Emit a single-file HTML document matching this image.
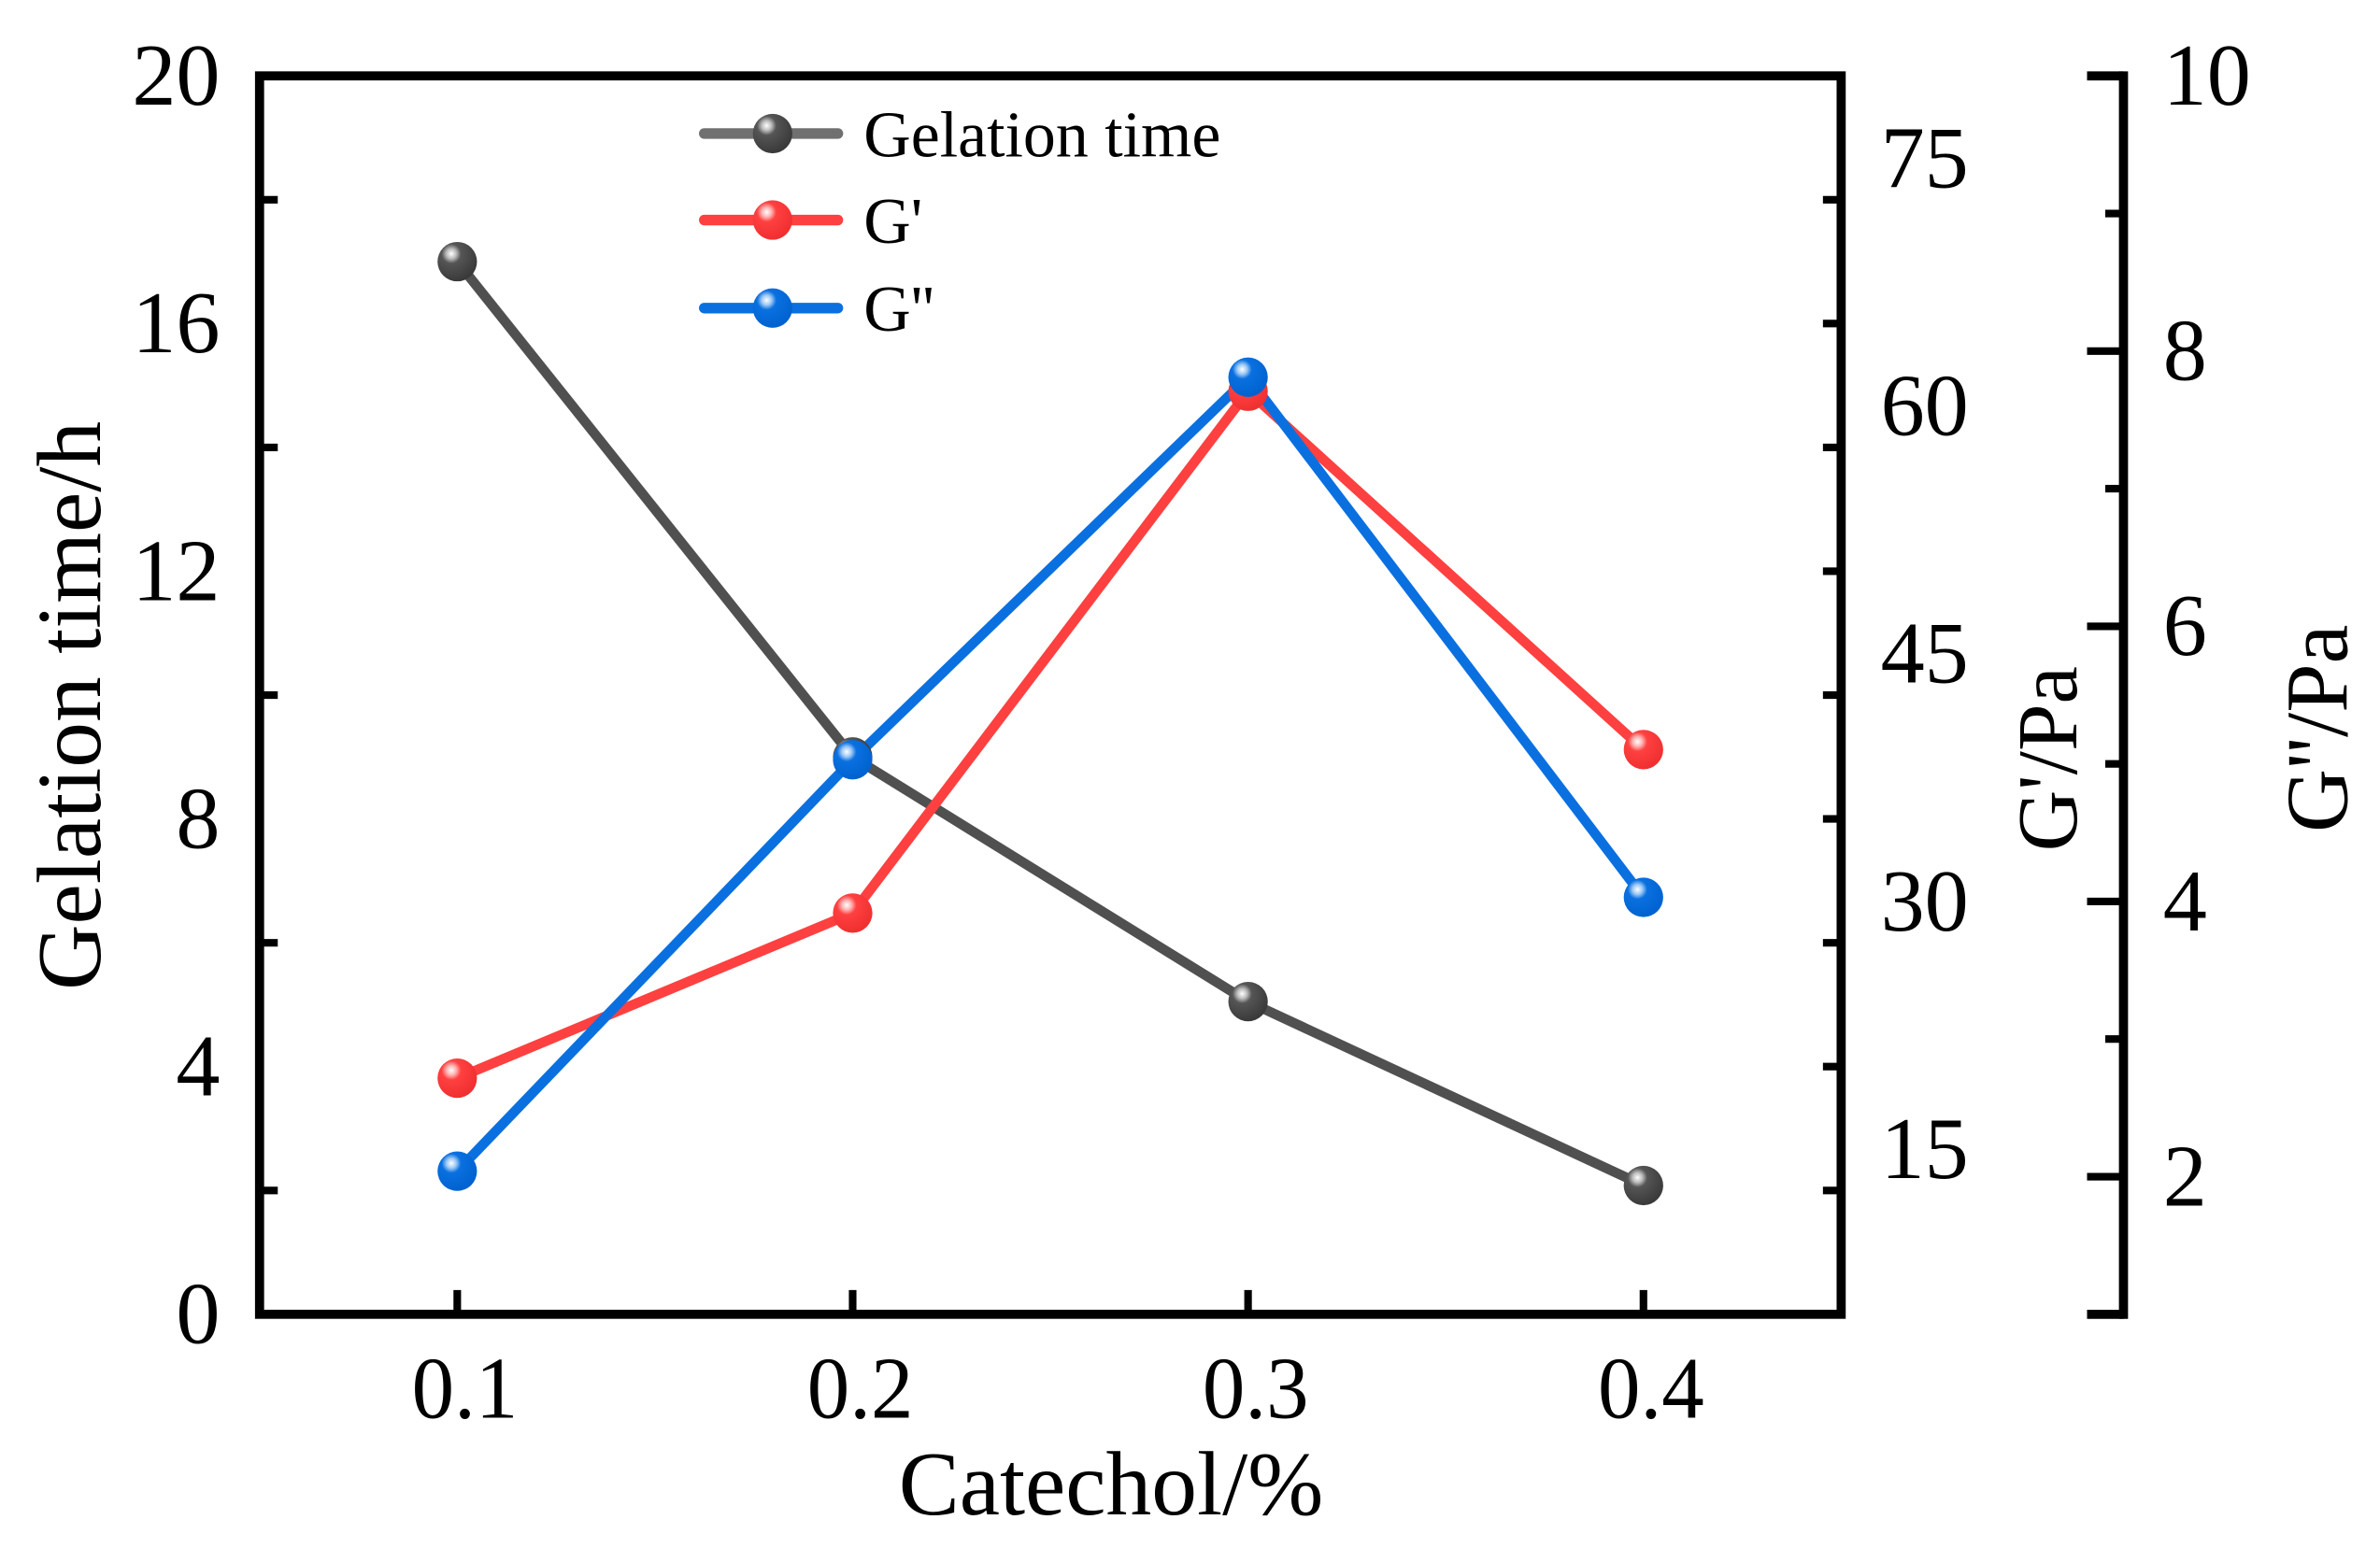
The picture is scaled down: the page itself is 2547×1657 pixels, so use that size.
<!DOCTYPE html>
<html><head><meta charset="utf-8">
<style>html,body{margin:0;padding:0;background:#fff}svg{display:block}</style></head>
<body>
<svg id="chart" width="2547" height="1657" viewBox="0 0 1568 1020" preserveAspectRatio="none" xmlns="http://www.w3.org/2000/svg" font-family="'Liberation Serif', serif">
<defs>
<radialGradient id="gGray" cx="0.35" cy="0.3" r="0.7"><stop offset="0" stop-color="#fff"/><stop offset="0.18" stop-color="#bbb"/><stop offset="0.35" stop-color="#555"/><stop offset="1" stop-color="#3a3a3a"/></radialGradient>
<radialGradient id="gRed" cx="0.35" cy="0.3" r="0.7"><stop offset="0" stop-color="#fff"/><stop offset="0.18" stop-color="#ffb0b0"/><stop offset="0.35" stop-color="#ff4040"/><stop offset="1" stop-color="#f03030"/></radialGradient>
<radialGradient id="gBlue" cx="0.35" cy="0.3" r="0.7"><stop offset="0" stop-color="#fff"/><stop offset="0.18" stop-color="#9cc8f5"/><stop offset="0.35" stop-color="#0a70e0"/><stop offset="1" stop-color="#0062d0"/></radialGradient>
</defs>
<g id="axes"></g>
<g id="series"></g>
<g id="legend"></g>
</svg>
<script>
const categories = [0.1, 0.2, 0.3, 0.4];
const gelationTime = [17.0, 9.0, 5.05, 2.08];
const gPrime = [19.3, 29.3, 60.9, 39.2];
const gDoublePrime = [2.04, 5.03, 7.81, 4.03];
const leftTicks = [0, 4, 8, 12, 16, 20];
const xTicks = ["0.1", "0.2", "0.3", "0.4"];
const gPrimeTicks = [15, 30, 45, 60, 75];
const gDoubleTicks = [2, 4, 6, 8, 10];

const NS = "http://www.w3.org/2000/svg";
const L = 171, R = 1213, T = 50, B = 866, R2 = 1399;
const xS = v => L + (v - 0.05) / 0.4 * (R - L);
const yL = v => B - v / 20 * (B - T);
const yG1 = v => B - (v - 5) / 75 * (B - T);
const yG2 = v => B - (v - 1) / 9 * (B - T);

function mk(parent, tag, attrs) {
  const e = document.createElementNS(NS, tag);
  for (const k in attrs) e.setAttribute(k, attrs[k]);
  parent.appendChild(e);
  return e;
}
const axes = document.getElementById('axes');
const series = document.getElementById('series');
const legend = document.getElementById('legend');
const FS = 58;

let f = mk(axes, 'rect', {x: L, y: T, width: R - L, height: B - T, fill: 'none', stroke: '#000', 'stroke-width': 6});


let a2 = mk(axes, 'line', {x1: R2, y1: T - 3, x2: R2, y2: B + 3, stroke: '#000', 'stroke-width': 6});


mk(axes, 'line', {x1: R2 - 24, y1: T, x2: R2, y2: T, stroke: '#000', 'stroke-width': 6});
mk(axes, 'line', {x1: R2 - 24, y1: B, x2: R2, y2: B, stroke: '#000', 'stroke-width': 6});

for (let v = 0; v <= 20; v += 2) {
  const maj = v % 4 === 0;
  mk(axes, 'line', {x1: L, y1: yL(v), x2: L + (maj ? 0 : 12), y2: yL(v), stroke: '#000', 'stroke-width': 5});
}
leftTicks.forEach(v => {
  const t = mk(axes, 'text', {x: L - 26, y: yL(v) + 19, 'text-anchor': 'end', 'font-size': FS});
  t.textContent = v;
  
  
});
categories.forEach((c, i) => {
  mk(axes, 'line', {x1: xS(c), y1: B, x2: xS(c), y2: B - 16, stroke: '#000', 'stroke-width': 5});
  const t = mk(axes, 'text', {x: xS(c) + 5, y: B + 68, 'text-anchor': 'middle', 'font-size': FS, textLength: 70, lengthAdjust: 'spacingAndGlyphs'});
  t.textContent = xTicks[i];
  
  
});
for (let v = 12.5; v <= 80; v += 7.5) {
  const maj = Math.abs(v % 15) < 0.01;
  mk(axes, 'line', {x1: R, y1: yG1(v), x2: R - (maj ? 24 : 12), y2: yG1(v), stroke: '#000', 'stroke-width': 5});
}
gPrimeTicks.forEach(v => {
  const t = mk(axes, 'text', {x: R + 26, y: yG1(v) + 19, 'font-size': FS});
  t.textContent = v;
  
  
});
for (let v = 1; v <= 10; v += 1) {
  const maj = v % 2 === 0;
  mk(axes, 'line', {x1: R2, y1: yG2(v), x2: R2 - (maj ? 24 : 12), y2: yG2(v), stroke: '#000', 'stroke-width': 5});
}
gDoubleTicks.forEach(v => {
  const t = mk(axes, 'text', {x: R2 + 26, y: yG2(v) + 19, 'font-size': FS});
  t.textContent = v;
  
  
});
let tt = mk(axes, 'text', {x: 0, y: 0, 'text-anchor': 'middle', 'font-size': 60, transform: 'translate(66,465) rotate(-90)'});
tt.textContent = 'Gelation time/h';


tt = mk(axes, 'text', {x: 0, y: 0, 'text-anchor': 'middle', 'font-size': 56, transform: 'translate(1368,500) rotate(-90)'});
tt.textContent = "G'/Pa";


tt = mk(axes, 'text', {x: 0, y: 0, 'text-anchor': 'middle', 'font-size': 58, transform: 'translate(1546,480) rotate(-90)'});
tt.textContent = "G''/Pa";


tt = mk(axes, 'text', {x: 732, y: 998, 'text-anchor': 'middle', 'font-size': 60});
tt.textContent = 'Catechol/%';



const defs = [
  {name: 'gelation-time', vals: gelationTime, y: yL, line: '#505050', grad: 'url(#gGray)', label: 'Gelation time'},
  {name: 'g-prime', vals: gPrime, y: yG1, line: '#ff4040', grad: 'url(#gRed)', label: "G'"},
  {name: 'g-double-prime', vals: gDoublePrime, y: yG2, line: '#0a70e0', grad: 'url(#gBlue)', label: "G''"}
];
defs.forEach(s => {
  const pts = categories.map((c, i) => xS(c) + ',' + s.y(s.vals[i])).join(' ');
  const pl = mk(series, 'polyline', {points: pts, fill: 'none', stroke: s.line, 'stroke-width': 6.5, 'stroke-linejoin': 'round'});
  
  
});
defs.forEach(s => {
  categories.forEach((c, i) => {
    const p = mk(series, 'circle', {cx: xS(c), cy: s.y(s.vals[i]), r: 13, fill: s.grad});
    
    
  });
});
const legY = [88, 145, 203];
const legLine = ['#707070', '#ff4040', '#0a70e0'];
defs.forEach((s, i) => {
  const g = mk(legend, 'g', {});
  
  
  mk(g, 'line', {x1: 464, y1: legY[i], x2: 552, y2: legY[i], stroke: legLine[i], 'stroke-width': 7, 'stroke-linecap': 'round'});
  mk(g, 'circle', {cx: 509, cy: legY[i], r: 13, fill: s.grad});
  const t = mk(g, 'text', {x: 569, y: legY[i] + 15, 'font-size': 43});
  t.textContent = s.label;
});
</script>
</body></html>
